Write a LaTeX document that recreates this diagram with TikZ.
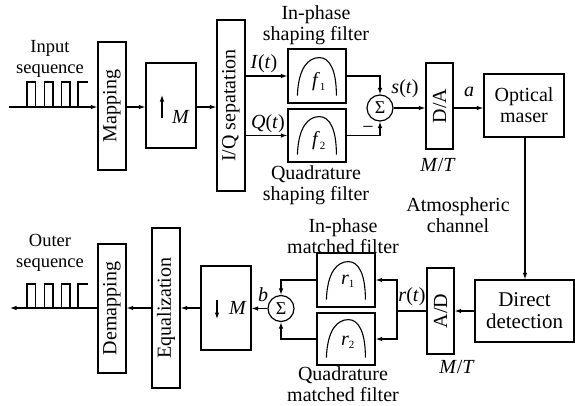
\documentclass[tikz,border=0pt]{standalone}
\usepackage{fontspec}
\setmainfont{Liberation Serif}
\usepackage{graphicx}
\usetikzlibrary{arrows.meta}
\newcommand\fsz{\fontsize{20pt}{21pt}\selectfont}
\newcommand\fsm{\fontsize{18.5pt}{21pt}\selectfont}
\newcommand\fsb{\fontsize{21pt}{22pt}\selectfont}
\newcommand\archin[1]{%
  \draw[line width=1.1pt] ([shift={(10,-8)}]#1.south west)
     .. controls ([shift={(11,-36)}]#1.south west) and ([shift={(21,-46)}]#1.south west) .. ([shift={(32,-46)}]#1.south west)
     .. controls ([shift={(42,-46)}]#1.south west) and ([shift={(49,-34)}]#1.south west) .. ([shift={(49,-8)}]#1.south west);}
\begin{document}
\begin{tikzpicture}[x=1pt,y=-1pt,line width=1.1pt,
  blk/.style={draw,line width=1.2pt,inner sep=0pt,font=\fsz,align=center},
  arr/.style={-{Latex[length=6.5pt,width=4.5pt]}},
  lbl/.style={inner sep=0pt,font=\fsz,align=center},
  sumc/.style={draw,circle,line width=1.2pt,minimum size=26pt,inner sep=0pt,font=\fontsize{18pt}{18pt}\selectfont}]
\useasboundingbox (0,0) rectangle (575,405);

% ---------- top row ----------
\coordinate (in) at (9,107);
\node[blk,minimum width=28pt,minimum height=128pt] (map) at (112,106) {\rotatebox{90}{Mapping}};
\node[blk,minimum width=50pt,minimum height=85pt] (upM) at (171,105.5) {};
\node[blk,minimum width=28pt,minimum height=171pt] (iq) at (231,105.5) {\rotatebox{90}{I/Q sepatation}};
\node[blk,minimum width=58pt,minimum height=54pt] (f1) at (317,76) {};
\node[blk,minimum width=58pt,minimum height=53pt] (f2) at (317,135.5) {};
\node[sumc] (s1) at (380,108) {Σ};
\node[blk,minimum width=27pt,minimum height=86pt] (da) at (439.5,106) {\rotatebox{90}{D/A}};
\node[blk,minimum width=80pt,minimum height=63pt] (maser) at (524,105.5) {Optical\\maser};

% ---------- bottom row ----------
\coordinate (out) at (10,308);
\node[blk,font=\fsb,minimum width=99pt,minimum height=62pt] (dd) at (524.5,311) {Direct\\detection};
\node[blk,minimum width=27pt,minimum height=86pt] (ad) at (440.5,311) {\rotatebox{90}{A/D}};
\node[blk,minimum width=58pt,minimum height=54pt] (r1) at (346,280) {};
\node[blk,minimum width=58pt,minimum height=52pt] (r2) at (346,339) {};
\node[sumc] (s2) at (281,308.5) {Σ};
\node[blk,minimum width=50pt,minimum height=84pt] (dnM) at (226,308) {};
\node[blk,minimum width=28pt,minimum height=160pt] (eq) at (166,308) {\rotatebox{90}{Equalization}};
\node[blk,minimum width=28pt,minimum height=129pt] (dem) at (112,308.5) {\rotatebox{90}{Demapping}};

% filter curves
\archin{f1}\archin{f2}\archin{r1}\archin{r2}

% labels inside filters
\node[lbl] (lf1) at (319,82) {\textit{f}\textsubscript{\fontsize{11pt}{11pt}\selectfont 1}};
\node[lbl] (lf2) at (319,141) {\textit{f}\textsubscript{\fontsize{11pt}{11pt}\selectfont 2}};
\node[lbl] (lr1) at (348,281) {\textit{r}\textsubscript{\fontsize{11pt}{11pt}\selectfont 1}};
\node[lbl] (lr2) at (348,342) {\textit{r}\textsubscript{\fontsize{11pt}{11pt}\selectfont 2}};

% up/down sampling symbols
\draw[arr] (162,118) -- (162,95);
\node[lbl] (mup) at (181,117) {\textit{M}};
\draw[arr] (217,300) -- (217,319);
\node[lbl] (mdn) at (238,308) {\textit{M}};

% pulses
\draw (27,107) -- (27,82) -- (35.5,82) -- (35.5,107)
      (44.5,107) -- (44.5,82) -- (53,82) -- (53,107)
      (61.5,107) -- (61.5,82) -- (70,82) -- (70,107)
      (78,107) -- (78,82) -- (87.5,82);
\draw (27,308) -- (27,284) -- (35.5,284) -- (35.5,308)
      (44.5,308) -- (44.5,284) -- (53,284) -- (53,308)
      (61.5,308) -- (61.5,284) -- (70,284) -- (70,308)
      (78,308) -- (78,284) -- (87.5,284);

% ---------- connectors top ----------
\draw[arr] (in) -- (in -| map.west);
\draw[arr] (map.east |- 0,107) -- (upM.west |- 0,107);
\draw[arr] (upM.east |- 0,107) -- (iq.west |- 0,107);
\draw[arr] (iq.east |- f1) -- (f1.west);
\draw[arr] (iq.east |- f2) -- (f2.west);
\draw[arr] (f1.east) -| (s1.north);
\draw[arr] (f2.east) -| (s1.south);
\draw[arr] (s1.east) -- (s1.east -| da.west);
\draw[arr] (da.east |- s1) -- (maser.west |- s1);
\draw[arr] (maser.south -| 525,0) -- (dd.north -| 525,0);

% ---------- connectors bottom ----------
\draw[arr] (dd.west) -- (ad.east |- dd.west);
\coordinate (br) at (397,311);
\draw (ad.west |- br) -- (br);
\draw[arr] (br) |- (r1.east);
\draw[arr] (br) |- (r2.east);
\draw[arr] (r1.west) -| (s2.north);
\draw[arr] (r2.west) -| (s2.south);
\draw[arr] (s2.west) -- (s2.west -| dnM.east);
\draw[arr] (dnM.west) -- (dnM.west -| eq.east);
\draw[arr] (eq.west |- dnM.west) -- (dem.east |- dnM.west);
\draw[arr] (dem.west |- dnM.west) -- (out);

% ---------- text labels ----------
\node[lbl,font=\fsm] (tin) at (50,59) {Input\\sequence};
\node[lbl,font=\fsm] (tout) at (50,253) {Outer\\sequence};
\node[lbl] (tinp) at (316,25) {In-phase\\shaping filter};
\node[lbl] (tqs) at (316,185) {Quadrature\\shaping filter};
\node[lbl] (tI) at (264,64) {\textit{I}(\textit{t})};
\node[lbl] (tQ) at (268,124) {\textit{Q}(\textit{t})};
\node[lbl] (ts) at (405,89) {\textit{s}(\textit{t})};
\node[lbl] (ta) at (469,92) {\textit{a}};
\node[lbl] (tmt1) at (438,165) {\textit{M}/\textit{T}};
\node[lbl] (tminus) at (368,130) {\textminus};
\node[lbl] (tatm) at (458,215) {Atmospheric\\channel};
\node[lbl] (tinm) at (343,236) {In-phase\\matched filter};
\node[lbl] (tqm) at (343,384) {Quadrature\\matched filter};
\node[lbl] (tr) at (412,297) {\textit{r}(\textit{t})};
\node[lbl] (tb) at (263,295) {\textit{b}};
\node[lbl] (tmt2) at (457,367) {\textit{M}/\textit{T}};
\end{tikzpicture}
\end{document}
